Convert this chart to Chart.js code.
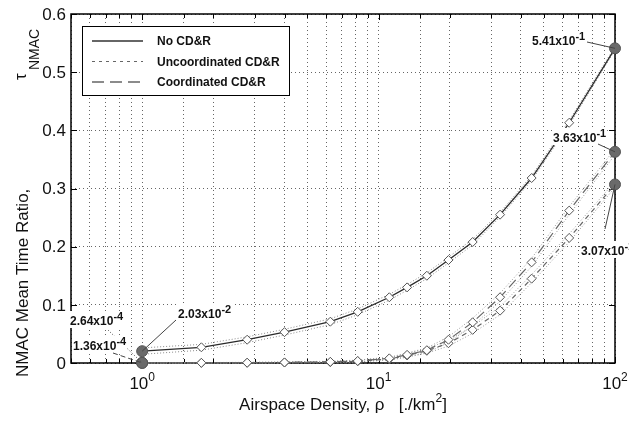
<!DOCTYPE html>
<html>
<head>
<meta charset="utf-8">
<script src="https://cdn.jsdelivr.net/npm/chart.js@4.4.1/dist/chart.umd.min.js"></script>
<style>
  html, body { margin: 0; padding: 0; background: #fff; }
  #wrap { width: 629px; height: 421px; }
</style>
</head>
<body>
<div id="wrap"><canvas id="graph" width="629" height="421"></canvas></div>
<script>
// ── Données ────────────────────────────────────────────────────────────
const densite = [1, 1.78, 2.78, 4, 6.25, 8.16, 11.1, 13.2, 16, 19.75, 25, 32.65, 44.4, 64, 100];

const sansCDR      = [0.0203, 0.027, 0.040, 0.053, 0.071, 0.088, 0.113, 0.130, 0.150, 0.177, 0.208, 0.255, 0.318, 0.413, 0.541];
const sansCDRHaut  = [0.026, 0.032, 0.045, 0.058, 0.076, 0.093, 0.118, 0.135, 0.155, 0.182, 0.213, 0.259, 0.322, 0.417, 0.544];
const sansCDRBas   = [0.015, 0.022, 0.035, 0.048, 0.066, 0.083, 0.108, 0.125, 0.145, 0.172, 0.203, 0.251, 0.314, 0.409, 0.538];

const coord        = [0.000136, 0.0003, 0.0005, 0.001, 0.002, 0.0035, 0.008, 0.014, 0.022, 0.040, 0.070, 0.113, 0.173, 0.262, 0.363];
const coordHaut    = [0.0005, 0.0008, 0.0012, 0.002, 0.003, 0.005, 0.010, 0.017, 0.026, 0.045, 0.077, 0.120, 0.180, 0.269, 0.368];
const coordBas     = [0.0001, 0.0001, 0.0002, 0.0004, 0.001, 0.002, 0.006, 0.011, 0.018, 0.035, 0.064, 0.106, 0.166, 0.255, 0.358];

const nonCoord     = [0.000264, 0.0002, 0.0004, 0.0008, 0.0015, 0.003, 0.007, 0.013, 0.021, 0.034, 0.057, 0.090, 0.145, 0.215, 0.307];
const nonCoordHaut = [0.0004, 0.0005, 0.0008, 0.0015, 0.0025, 0.0045, 0.009, 0.016, 0.025, 0.039, 0.063, 0.097, 0.152, 0.222, 0.312];
const nonCoordBas  = [0.0000, 0.0000, 0.0001, 0.0003, 0.0008, 0.0018, 0.005, 0.010, 0.017, 0.029, 0.051, 0.083, 0.138, 0.208, 0.302];

const graduationsY = [0, 0.1, 0.2, 0.3, 0.4, 0.5, 0.6];
const graduationsX = [[1, '10', '0'], [10, '10', '1'], [100, '10', '2']];

const legende = ['No CD&R', 'Uncoordinated CD&R', 'Coordinated CD&R'];

// ── Style ──────────────────────────────────────────────────────────────
const POLICE = '"Liberation Sans", Arial, sans-serif';
const dernier = densite.length - 1;

function points(valeurs) {
    return densite.map((d, i) => ({ x: d, y: valeurs[i] }));
}

function serie(valeurs, couleur, tirets, largeur) {
    return {
        data: points(valeurs),
        borderColor: couleur,
        borderWidth: largeur,
        borderDash: tirets,
        pointStyle: c => (c.dataIndex === 0 || c.dataIndex === dernier) ? 'circle' : 'rectRot',
        pointRadius: c => (c.dataIndex === 0 || c.dataIndex === dernier) ? 5.5 : 4.5,
        pointBackgroundColor: c => (c.dataIndex === 0 || c.dataIndex === dernier) ? '#6a6a6a' : '#fff',
        pointBorderColor: '#555',
        pointBorderWidth: 1,
        tension: 0,
        clip: false,
    };
}

function bande(valeurs, couleur) {
    return {
        data: points(valeurs),
        borderColor: couleur,
        borderWidth: 1,
        borderDash: [1, 2],
        pointRadius: 0,
        tension: 0,
        clip: false,
    };
}

// texte avec exposant, retourne la largeur totale
function texteExposant(ctx, x, y, base, exp, tBase, tExp, montee, gras) {
    const g = gras ? 'bold ' : '';
    ctx.font = g + tBase + 'px ' + POLICE;
    ctx.fillText(base, x, y);
    const w = ctx.measureText(base).width;
    ctx.font = g + tExp + 'px ' + POLICE;
    ctx.fillText(exp, x + w, y - montee);
    return w + ctx.measureText(exp).width;
}

function largeurExposant(ctx, base, exp, tBase, tExp, gras) {
    const g = gras ? 'bold ' : '';
    ctx.font = g + tBase + 'px ' + POLICE;
    const w = ctx.measureText(base).width;
    ctx.font = g + tExp + 'px ' + POLICE;
    return w + ctx.measureText(exp).width;
}

// Annotations : position du texte + point d'ancrage (série, index)
const ANNOTATIONS = [
    { base: '5.41x10', exp: '-1', x: 532, y: 45, dx: 587, dy: 42, serie: sansCDR, i: dernier, tirets: [] },
    { base: '3.63x10', exp: '-1', x: 553, y: 142, dx: 598, dy: 144, serie: coord, i: dernier, tirets: [] },
    { base: '3.07x10', exp: '-1', x: 581, y: 255, dx: 605, dy: 229, serie: nonCoord, i: dernier, tirets: [] },
    { base: '2.03x10', exp: '-2', x: 178, y: 318, dx: 176, dy: 320, serie: sansCDR, i: 0, tirets: [] },
    { base: '2.64x10', exp: '-4', x: 70, y: 325, dx: 108, dy: 330, serie: nonCoord, i: 0, tirets: [1, 2] },
    { base: '1.36x10', exp: '-4', x: 73, y: 350, dx: 113, dy: 353, serie: coord, i: 0, tirets: [5, 3] },
];

const habillage = {
    id: 'habillage',
    beforeDatasetsDraw(chart) {
        const { ctx, chartArea: a, scales: { x, y } } = chart;
        ctx.save();
        ctx.strokeStyle = '#000';
        ctx.lineWidth = 1;
        ctx.setLineDash([]);
        ctx.beginPath();
        // graduations internes
        graduationsY.forEach(v => {
            const py = Math.round(y.getPixelForValue(v)) + 0.5;
            ctx.moveTo(a.left, py); ctx.lineTo(a.left + 6, py);
            ctx.moveTo(a.right, py); ctx.lineTo(a.right - 6, py);
        });
        x.ticks.forEach(t => {
            const px = Math.round(x.getPixelForValue(t.value)) + 0.5;
            const lg = graduationsX.some(g => g[0] === t.value) ? 6 : 4;
            ctx.moveTo(px, a.bottom); ctx.lineTo(px, a.bottom - lg);
            ctx.moveTo(px, a.top); ctx.lineTo(px, a.top + lg);
        });
        ctx.stroke();
        ctx.lineWidth = 1.5;
        ctx.strokeRect(a.left, a.top, a.right - a.left, a.bottom - a.top);
        ctx.restore();
    },
    afterDatasetsDraw(chart) {
        const { ctx, chartArea: a, scales: { x, y } } = chart;
        ctx.save();
        ctx.fillStyle = '#111';
        ctx.textBaseline = 'alphabetic';

        // libellés Y
        ctx.font = '17px ' + POLICE;
        ctx.textAlign = 'right';
        ctx.textBaseline = 'middle';
        graduationsY.forEach(v => {
            ctx.fillText(String(v), a.left - 5, y.getPixelForValue(v) + 1);
        });

        // libellés X (10^n)
        ctx.textAlign = 'left';
        ctx.textBaseline = 'alphabetic';
        graduationsX.forEach(([v, b, e]) => {
            const w = largeurExposant(ctx, b, e, 17, 12, false);
            const px = x.getPixelForValue(v);
            texteExposant(ctx, px - w / 2, 389, b, e, 17, 12, 8, false);
        });

        // titre X
        const tx1 = 'Airspace Density, \u03c1   [./km';
        ctx.font = '17px ' + POLICE;
        const w1 = ctx.measureText(tx1).width;
        ctx.font = '12px ' + POLICE;
        const w2 = ctx.measureText('2').width;
        ctx.font = '17px ' + POLICE;
        const w3 = ctx.measureText(']').width;
        let sx = (a.left + a.right) / 2 - (w1 + w2 + w3) / 2;
        ctx.fillText(tx1, sx, 410);
        ctx.font = '12px ' + POLICE;
        ctx.fillText('2', sx + w1, 402);
        ctx.font = '17px ' + POLICE;
        ctx.fillText(']', sx + w1 + w2, 410);

        // titre Y
        ctx.save();
        ctx.translate(28, 377);
        ctx.rotate(-Math.PI / 2);
        ctx.font = '17px ' + POLICE;
        ctx.fillText('NMAC Mean Time Ratio,', 0, 0);
        ctx.restore();
        ctx.save();
        ctx.translate(26, 80);
        ctx.rotate(-Math.PI / 2);
        ctx.font = '17px ' + POLICE;
        ctx.fillText('\u03c4', 0, 0);
        ctx.restore();
        ctx.save();
        ctx.translate(39, 70);
        ctx.rotate(-Math.PI / 2);
        ctx.font = '14px ' + POLICE;
        ctx.fillText('NMAC', 0, 0);
        ctx.restore();

        // annotations
        ANNOTATIONS.forEach(an => {
            const w = largeurExposant(ctx, an.base, an.exp, 12, 11, true);
            ctx.fillStyle = '#fff';
            ctx.fillRect(an.x - 1, an.y - 14, w + 2, 17);
            ctx.strokeStyle = '#444';
            ctx.lineWidth = 1;
            ctx.setLineDash(an.tirets);
            ctx.beginPath();
            ctx.moveTo(an.dx, an.dy);
            ctx.lineTo(x.getPixelForValue(densite[an.i]), y.getPixelForValue(an.serie[an.i]));
            ctx.stroke();
            ctx.setLineDash([]);
            ctx.fillStyle = '#111';
            texteExposant(ctx, an.x, an.y, an.base, an.exp, 12, 11, 5, true);
        });

        // légende
        const L = { x: 82, y: 26, w: 207, h: 69 };
        ctx.fillStyle = '#fff';
        ctx.fillRect(L.x, L.y, L.w, L.h);
        ctx.strokeStyle = '#000';
        ctx.lineWidth = 1;
        ctx.strokeRect(L.x + 0.5, L.y + 0.5, L.w, L.h);
        const styles = [
            { c: '#333', d: [], lw: 1.5 },
            { c: '#666', d: [3, 4], lw: 1.2 },
            { c: '#666', d: [12, 6], lw: 1.5 },
        ];
        legende.forEach((txt, k) => {
            const ly = 41 + k * 20.5;
            ctx.strokeStyle = styles[k].c;
            ctx.lineWidth = styles[k].lw;
            ctx.setLineDash(styles[k].d);
            ctx.beginPath();
            ctx.moveTo(92, ly); ctx.lineTo(143, ly);
            ctx.stroke();
            ctx.setLineDash([]);
            ctx.fillStyle = '#111';
            ctx.font = 'bold 12px ' + POLICE;
            ctx.textBaseline = 'middle';
            ctx.fillText(txt, 157, ly + 1);
            ctx.textBaseline = 'alphabetic';
        });
        ctx.restore();
    },
};

new Chart(document.getElementById('graph'), {
    type: 'line',
    data: {
        datasets: [
            serie(sansCDR, '#2a2a2a', [], 1.3),
            serie(coord, '#666', [10, 5], 1.2),
            serie(nonCoord, '#666', [5, 4], 1.2),
            bande(sansCDRHaut, '#888'),
            bande(sansCDRBas, '#888'),
            bande(coordHaut, '#999'),
            bande(coordBas, '#999'),
            bande(nonCoordHaut, '#999'),
            bande(nonCoordBas, '#999'),
        ],
    },
    options: {
        responsive: false,
        animation: false,
        devicePixelRatio: 1,
        layout: { padding: { left: 71, right: 14, top: 14, bottom: 58 } },
        plugins: { legend: { display: false }, tooltip: { enabled: false } },
        scales: {
            x: {
                type: 'logarithmic',
                min: 0.5,
                max: 100,
                ticks: { display: false },
                grid: { color: '#666', lineWidth: 1, drawTicks: false },
                border: { display: false, dash: [1, 3] },
            },
            y: {
                min: 0,
                max: 0.6,
                ticks: { display: false, stepSize: 0.1 },
                grid: { color: '#666', lineWidth: 1, drawTicks: false },
                border: { display: false, dash: [1, 3] },
            },
        },
    },
    plugins: [habillage],
});
</script>
</body>
</html>
